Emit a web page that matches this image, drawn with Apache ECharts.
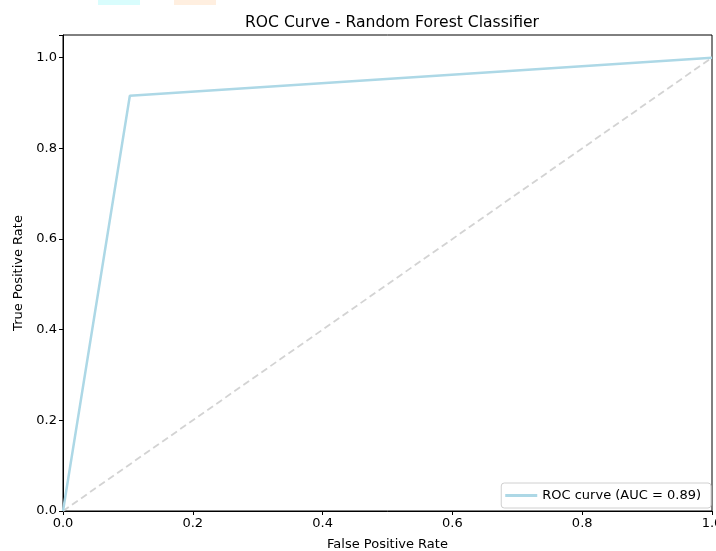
<!DOCTYPE html>
<html><head><meta charset="utf-8">
<script src="https://cdn.jsdelivr.net/npm/echarts@6/dist/echarts.min.js"></script>
<style>html,body{margin:0;padding:0;background:#fff}#c{width:716px;height:551px}</style>
</head><body><div id="c"></div>
<script>
const fpr = [0.0, 0.103, 1.0];
const tpr = [0.0, 0.916, 1.0];
const diagX = [0, 1];
const diagY = [0, 1];
const xTicks = [0, 0.2, 0.4, 0.6, 0.8, 1.0];
const yTicks = [0, 0.2, 0.4, 0.6, 0.8, 1.0];
const titleText = 'ROC Curve - Random Forest Classifier';
const seriesName = 'ROC curve (AUC = 0.89)';

const font = 'DejaVu Sans';
const chart = echarts.init(document.getElementById('c'), null, {renderer: 'canvas'});
chart.setOption({
  animation: false,
  backgroundColor: '#fff',
  title: {text: titleText, left: 387, top: 10, textAlign: 'center',
    textStyle: {fontFamily: font, fontSize: 15.6, fontWeight: 'normal', color: '#000'}},
  grid: {left: 63, right: 4, top: 35, bottom: 40, containLabel: false, outerBoundsMode: 'none',
    show: true, borderColor: '#000', borderWidth: 1, backgroundColor: 'transparent'},
  legend: {
    right: 5, bottom: 43, orient: 'vertical',
    backgroundColor: '#fff', borderColor: '#d0d0d0', borderWidth: 1, borderRadius: 3,
    padding: [6, 10, 6, 4],
    itemWidth: 32, itemHeight: 3, itemGap: 4,
    icon: 'rect',
    textStyle: {fontFamily: font, fontSize: 13, color: '#000'},
    data: [{name: seriesName, icon: 'rect'}]
  },
  xAxis: {
    type: 'value', min: 0, max: 1, interval: 0.2,
    name: 'False Positive Rate', nameLocation: 'middle', nameGap: 27,
    nameTextStyle: {fontFamily: font, fontSize: 13, color: '#000'},
    axisLine: {show: true, lineStyle: {color: '#000', width: 1}},
    axisTick: {show: true, length: 4, lineStyle: {color: '#000'}},
    axisLabel: {fontFamily: font, fontSize: 13, color: '#000', margin: 6,
      formatter: v => xTicks.some(t => Math.abs(t - v) < 1e-9) ? v.toFixed(1) : ''},
    splitLine: {show: false}
  },
  yAxis: {
    type: 'value', min: 0, max: 1.05, interval: 0.2,
    name: 'True Positive Rate', nameLocation: 'middle', nameGap: 36, nameRotate: 90,
    nameTextStyle: {fontFamily: font, fontSize: 13, color: '#000'},
    axisLine: {show: true, lineStyle: {color: '#000', width: 1}},
    axisTick: {show: true, length: 4, lineStyle: {color: '#000'}},
    axisLabel: {fontFamily: font, fontSize: 13, color: '#000', margin: 6,
      formatter: v => yTicks.some(t => Math.abs(t - v) < 1e-9) ? v.toFixed(1) : ''},
    splitLine: {show: false}
  },
  series: [
    {name: 'diag', type: 'line', data: diagX.map((x, i) => [x, diagY[i]]),
      showSymbol: false, lineStyle: {color: '#d3d3d3', width: 1.8, type: [7, 4]}, z: 1, silent: true},
    {name: seriesName, type: 'line', data: fpr.map((x, i) => [x, tpr[i]]),
      showSymbol: false, lineStyle: {color: '#add8e6', width: 2.5}, itemStyle: {color: '#add8e6'}, z: 2}
  ],
  graphic: [
    {type: 'rect', shape: {x: 98, y: 0, width: 42, height: 5}, style: {fill: '#d9fdfd'}},
    {type: 'rect', shape: {x: 174, y: 0, width: 42, height: 5}, style: {fill: '#ffefe0'}}
  ]
});
</script></body></html>
